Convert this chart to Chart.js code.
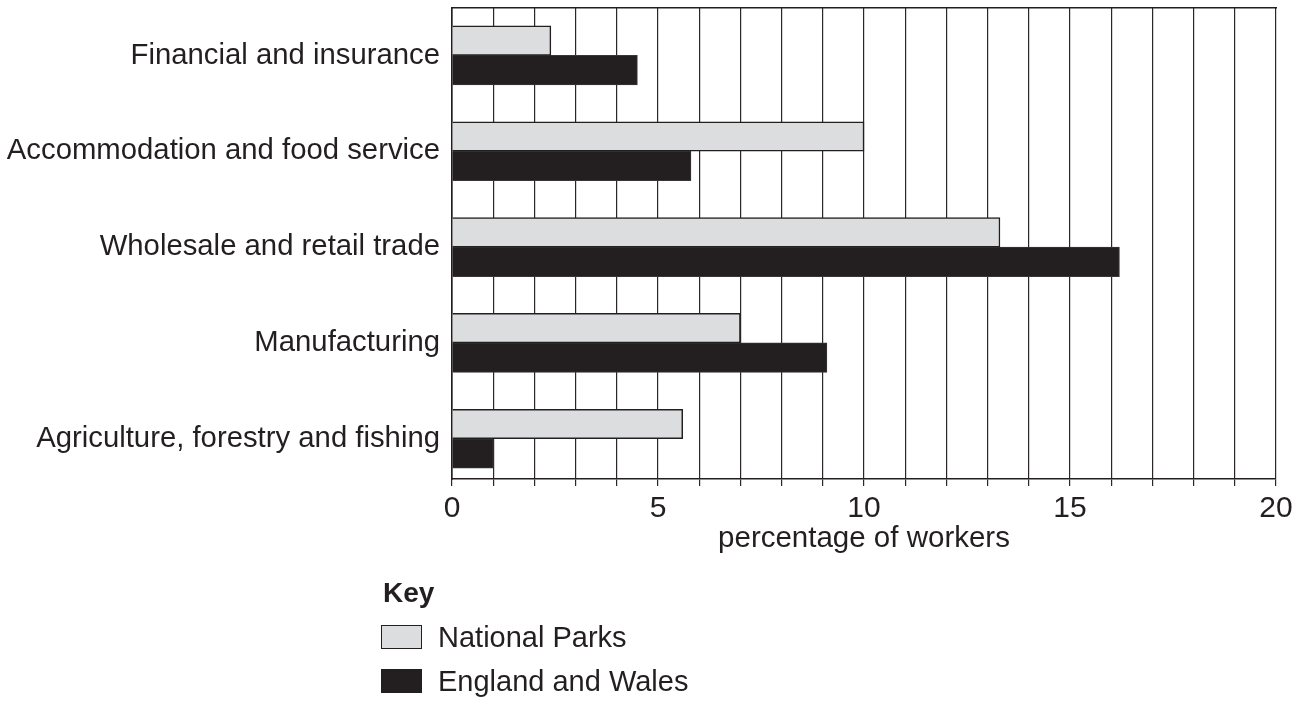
<!DOCTYPE html>
<html>
<head>
<meta charset="utf-8">
<script src="https://cdn.jsdelivr.net/npm/chart.js@4.4.1/dist/chart.umd.min.js"></script>
<style>
    html, body { margin: 0; padding: 0; background: #fff; }
    #wrap { position: relative; width: 1305px; height: 706px; }
    #key { position: absolute; left: 381px; top: 576px; font-family: "Liberation Sans", Arial, sans-serif; color: #231f20; }
    #key .key-title { font-weight: bold; font-size: 28px; line-height: 34px; margin-left: 2px; }
    #key .key-item { display: flex; align-items: center; height: 34px; margin-top: 10px; font-size: 29px; }
    #key .key-box { width: 39px; height: 22px; border: 1.5px solid #231f20; margin-right: 16px; }
</style>
</head>
<body>
<div id="wrap">
    <canvas id="chart" width="1305" height="706"></canvas>
    <div id="key"><div class="key-title">Key</div></div>
</div>
<script>
// categories, top to bottom
const sectors = [
    'Financial and insurance',
    'Accommodation and food service',
    'Wholesale and retail trade',
    'Manufacturing',
    'Agriculture, forestry and fishing'
];
// percentage of workers
const nationalParks = [2.4, 10.0, 13.3, 7.0, 5.6];
const englandWales = [4.5, 5.8, 16.2, 9.1, 1.0];
const seriesNames = ['National Parks', 'England and Wales'];
const xTicksShown = [0, 5, 10, 15, 20];

const ink = '#231f20';
Chart.defaults.font.family = '"Liberation Sans", Arial, sans-serif';
Chart.defaults.color = ink;

// sector index is used as position on the y scale
const toPoints = arr => arr.map((v, i) => ({ x: v, y: i }));

const chart = new Chart(document.getElementById('chart'), {
    type: 'bar',
    data: {
        datasets: [
            {
                label: seriesNames[0],
                data: toPoints(nationalParks),
                backgroundColor: '#dcdddf',
                borderColor: ink,
                borderWidth: 1.5,
                barThickness: 29.5
            },
            {
                label: seriesNames[1],
                data: toPoints(englandWales),
                backgroundColor: ink,
                borderColor: '#3a3637',
                borderWidth: 1,
                barThickness: 29.5
            }
        ]
    },
    options: {
        indexAxis: 'y',
        responsive: false,
        animation: false,
        layout: { padding: { top: 7.5, right: 29, bottom: 149, left: 0 } },
        plugins: { legend: { display: false }, tooltip: { enabled: false } },
        scales: {
            x: {
                type: 'linear',
                position: 'bottom',
                min: 0,
                max: 20,
                afterFit: s => { s.height = 78; },
                grid: { color: '#2b2728', lineWidth: 1.2, tickLength: 7, drawTicks: true },
                border: { display: true, color: ink, width: 1.6 },
                ticks: {
                    stepSize: 1,
                    autoSkip: false,
                    maxRotation: 0,
                    padding: 5,
                    font: { size: 30 },
                    callback: v => xTicksShown.includes(v) ? v : ''
                },
                title: {
                    display: true,
                    text: 'percentage of workers',
                    font: { size: 29.5 },
                    padding: { top: 0, bottom: 0 }
                }
            },
            xTop: {
                type: 'linear',
                position: 'top',
                min: 0,
                max: 20,
                afterFit: s => { s.height = 0; },
                grid: { display: false, drawTicks: false },
                ticks: { display: false },
                border: { display: true, color: ink, width: 1.6 }
            },
            y: {
                type: 'linear',
                reverse: true,
                offset: false,
                min: -0.5,
                max: 4.42,
                afterFit: s => { s.width = 452; s.paddingTop = 0; s.paddingBottom = 0; },
                afterBuildTicks: s => { s.ticks = sectors.map((c, i) => ({ value: i })); },
                grid: { display: false, drawTicks: false, offset: false },
                border: { display: true, color: ink, width: 1.6 },
                ticks: {
                    padding: 12,
                    font: { size: 29.3 },
                    callback: v => sectors[v]
                }
            }
        }
    }
});

// key below the chart, built from the datasets
const key = document.getElementById('key');
chart.data.datasets.forEach(ds => {
    const item = document.createElement('div');
    item.className = 'key-item';
    item.innerHTML = `<span class="key-box" style="background:${ds.backgroundColor}"></span><span>${ds.label}</span>`;
    key.appendChild(item);
});
</script>
</body>
</html>
